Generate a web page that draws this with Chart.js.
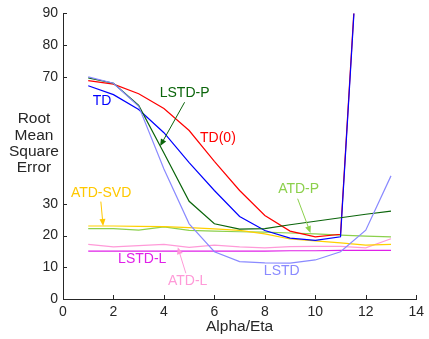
<!DOCTYPE html>
<html>
<head>
<meta charset="utf-8">
<script src="https://cdn.jsdelivr.net/npm/chart.js@4/dist/chart.umd.min.js"></script>
<style>
  html, body { margin: 0; padding: 0; background: #ffffff; }
  #wrap { width: 429px; height: 339px; }
</style>
</head>
<body>
<div id="wrap"><canvas id="c" width="429" height="339"></canvas></div>
<script>
// Step size (alpha / eta) on the x axis
const alphaEta = [1, 2, 3, 4, 5, 6, 7, 8, 9, 10, 11, 12, 13];

// RMS error per method
const td     = [67.2, 64.4, 59.7, 52.4, 43.0, 34.2, 26.0, 21.6, 19.2, 18.5, 19.6, 152, null];
const td0    = [68.8, 67.7, 64.7, 60.0, 53.1, 43.4, 34.2, 26.3, 21.4, 19.6, 20.4, 153, null];
const lstdP  = [69.7, 68.0, 61.0, 46.0, 30.8, 23.7, 22.0, 22.2, 23.4, 24.5, 25.6, 26.7, 27.7];
const lstd   = [70.0, 68.0, 60.7, 41.0, 23.7, 14.9, 11.8, 11.4, 11.3, 12.3, 14.9, 21.7, 38.8];
const atdSvd = [23.0, 23.0, 22.9, 22.8, 22.5, 22.1, 21.6, 20.5, 18.9, 18.3, 17.7, 17.0, 17.2];
const atdP   = [22.2, 22.2, 21.7, 22.7, 21.6, 21.4, 21.2, 21.1, 20.8, 20.5, 20.1, 19.8, 19.6];
const atdL   = [17.2, 16.4, 16.8, 17.2, 16.3, 17.0, 16.4, 16.1, 16.5, 16.6, 16.6, 16.1, 19.0];
const lstdL  = [15.1, 15.1, 15.1, 15.1, 15.1, 15.1, 15.1, 15.1, 15.2, 15.2, 15.3, 15.3, 15.3];

// Axis ticks
const xTicks = [0, 2, 4, 6, 8, 10, 12, 14];
const yTicks = [0, 10, 20, 30, 70, 80, 90];

const FONT = '"Liberation Sans", Arial, Helvetica, sans-serif';
const TEXT = '#262626';

const series = [
  { label: 'LSTD',    data: lstd,   color: '#8a8aff' },
  { label: 'LSTD-P',  data: lstdP,  color: '#0b650b' },
  { label: 'TD',      data: td,     color: '#0000ff' },
  { label: 'TD(0)',   data: td0,    color: '#ff0000' },
  { label: 'ATD-SVD', data: atdSvd, color: '#ffd000' },
  { label: 'ATD-P',   data: atdP,   color: '#8cd04c' },
  { label: 'LSTD-L',  data: lstdL,  color: '#e020e8' },
  { label: 'ATD-L',   data: atdL,   color: '#ff9ad8' }
];

// Curve labels, in data units; optional arrow from -> to
const callouts = [
  { text: 'TD',      color: '#0000ff', at: [1.55, 62.3] },
  { text: 'TD(0)',   color: '#ff0000', at: [6.14, 50.7] },
  { text: 'LSTD-P',  color: '#0b650b', at: [4.82, 64.8], from: [4.82, 62.0], to: [3.85, 48.2] },
  { text: 'ATD-P',   color: '#8cd04c', at: [9.34, 34.5], from: [9.30, 31.6], to: [9.81, 20.8] },
  { text: 'ATD-SVD', color: '#ffc800', at: [1.51, 33.5], from: [1.50, 30.7], to: [1.59, 23.0] },
  { text: 'LSTD-L',  color: '#e020e8', at: [3.14, 12.6] },
  { text: 'ATD-L',   color: '#ff9ad8', at: [4.94, 5.7],  from: [4.87, 8.1],  to: [4.55, 16.3] },
  { text: 'LSTD',    color: '#8a8aff', at: [8.67, 8.8] }
];

const decorations = {
  id: 'decorations',
  afterDraw(chart) {
    const { ctx, chartArea: a, scales: { x, y } } = chart;
    ctx.save();
    // inward tick marks
    ctx.strokeStyle = TEXT;
    ctx.lineWidth = 1;
    ctx.beginPath();
    xTicks.forEach(v => {
      const px = Math.round(x.getPixelForValue(v)) + 0.5;
      ctx.moveTo(px, a.bottom);
      ctx.lineTo(px, a.bottom - 4);
    });
    yTicks.forEach(v => {
      const py = Math.round(y.getPixelForValue(v)) + 0.5;
      ctx.moveTo(a.left, py);
      ctx.lineTo(a.left + 4, py);
    });
    ctx.stroke();

    // axis titles
    ctx.fillStyle = TEXT;
    ctx.font = '15.5px ' + FONT;
    ctx.textAlign = 'center';
    ctx.textBaseline = 'middle';
    ctx.fillText('Alpha/Eta', (a.left + a.right) / 2, a.bottom + 28);
    const lines = ['Root', 'Mean', 'Square', 'Error'];
    const cy = y.getPixelForValue(49);
    lines.forEach((t, i) => ctx.fillText(t, a.left - 29, cy + (i - 1.5) * 16.4));

    // curve labels and arrows
    ctx.font = '14px ' + FONT;
    callouts.forEach(c => {
      ctx.fillStyle = c.color;
      ctx.strokeStyle = c.color;
      ctx.fillText(c.text, x.getPixelForValue(c.at[0]), y.getPixelForValue(c.at[1]));
      if (c.from) {
        const x0 = x.getPixelForValue(c.from[0]), y0 = y.getPixelForValue(c.from[1]);
        const x1 = x.getPixelForValue(c.to[0]),   y1 = y.getPixelForValue(c.to[1]);
        const ang = Math.atan2(y1 - y0, x1 - x0);
        const hl = 7, hw = 3;
        ctx.lineWidth = 1;
        ctx.beginPath();
        ctx.moveTo(x0, y0);
        ctx.lineTo(x1 - Math.cos(ang) * hl * 0.8, y1 - Math.sin(ang) * hl * 0.8);
        ctx.stroke();
        ctx.beginPath();
        ctx.moveTo(x1, y1);
        ctx.lineTo(x1 - Math.cos(ang) * hl - Math.sin(ang) * hw, y1 - Math.sin(ang) * hl + Math.cos(ang) * hw);
        ctx.lineTo(x1 - Math.cos(ang) * hl + Math.sin(ang) * hw, y1 - Math.sin(ang) * hl - Math.cos(ang) * hw);
        ctx.closePath();
        ctx.fill();
      }
    });
    ctx.restore();
  }
};

new Chart(document.getElementById('c'), {
  type: 'line',
  data: {
    labels: alphaEta,
    datasets: series.map(s => ({
      label: s.label,
      data: s.data.map((v, i) => ({ x: alphaEta[i], y: v })),
      borderColor: s.color,
      backgroundColor: s.color,
      borderWidth: 1.2,
      pointRadius: 0,
      tension: 0,
      fill: false,
      spanGaps: false
    }))
  },
  options: {
    responsive: false,
    animation: false,
    events: [],
    layout: { padding: { left: 0, right: 7, top: 11, bottom: 0 } },
    plugins: { legend: { display: false }, tooltip: { enabled: false } },
    scales: {
      x: {
        type: 'linear',
        min: 0, max: 14,
        afterBuildTicks: s => { s.ticks = xTicks.map(v => ({ value: v })); },
        afterFit: s => { s.height = 40; },
        grid: { display: true, drawOnChartArea: false, drawTicks: false },
        border: { display: true, color: TEXT, width: 1 },
        ticks: { color: TEXT, font: { family: FONT, size: 14 }, padding: 5, maxRotation: 0 }
      },
      y: {
        type: 'linear',
        min: 0, max: 90,
        afterBuildTicks: s => { s.ticks = yTicks.map(v => ({ value: v })); },
        afterFit: s => { s.width = 63; },
        grid: { display: true, drawOnChartArea: false, drawTicks: false },
        border: { display: true, color: TEXT, width: 1 },
        ticks: { color: TEXT, font: { family: FONT, size: 14 }, padding: 5 }
      }
    }
  },
  plugins: [decorations]
});
</script>
</body>
</html>
